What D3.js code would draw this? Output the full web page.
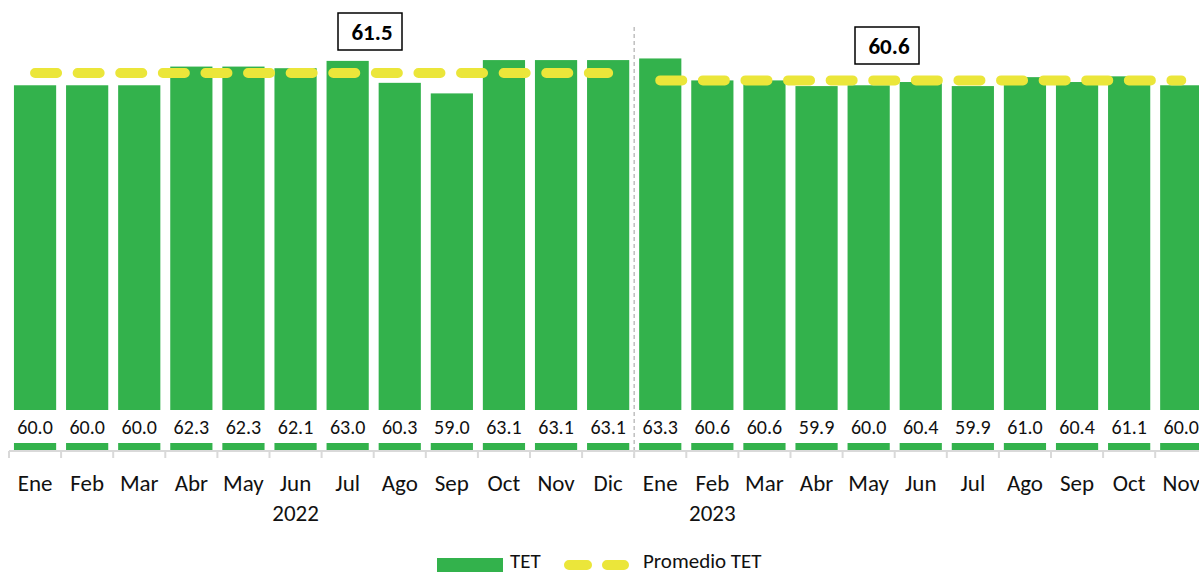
<!DOCTYPE html>
<html>
<head>
<meta charset="utf-8">
<script src="https://cdn.jsdelivr.net/npm/d3@7"></script>
<style>
  body { margin: 0; background: #fff; }
  svg { display: block; font-family: Carlito, Lato, "Liberation Sans", sans-serif; }
</style>
</head>
<body>
<div id="chart"></div>
<script>
// months shown on the axis (2022 then 2023)
var months = ["Ene","Feb","Mar","Abr","May","Jun","Jul","Ago","Sep","Oct","Nov","Dic",
              "Ene","Feb","Mar","Abr","May","Jun","Jul","Ago","Sep","Oct","Nov"];
var years = ["2022","2023"];
var yearOf = [0,0,0,0,0,0,0,0,0,0,0,0, 1,1,1,1,1,1,1,1,1,1,1];
// TET values
var tet = [60.0,60.0,60.0,62.3,62.3,62.1,63.0,60.3,59.0,63.1,63.1,63.1,
           63.3,60.6,60.6,59.9,60.0,60.4,59.9,61.0,60.4,61.1,60.0];
// yearly average
var promedio = [61.5, 60.6];

var width = 1199, height = 575;
var green = "#33b24c", yellow = "#ebe63a";

var svg = d3.select("#chart").append("svg")
  .attr("width", width)
  .attr("height", height);

var idx = d3.range(months.length);

var x = d3.scaleBand()
  .domain(idx)
  .range([9, 9 + 52.1 * months.length])
  .paddingInner(0.19)
  .paddingOuter(0.095);

var y = d3.scaleLinear().domain([15, 70]).range([451, 4]);

var step = x.step();
function boundary(i) { return x.range()[0] + i * step; }

// bars
svg.append("g").selectAll("rect")
  .data(idx)
  .enter().append("rect")
  .attr("x", function(i){ return x(i); })
  .attr("y", function(i){ return y(tet[i]); })
  .attr("width", x.bandwidth())
  .attr("height", function(i){ return y(15) - y(tet[i]) - 1; })
  .attr("fill", green);

// white boxes behind the value labels
svg.append("g").selectAll("rect")
  .data(idx)
  .enter().append("rect")
  .attr("x", function(i){ return x(i) - 3; })
  .attr("y", 410)
  .attr("width", x.bandwidth() + 6)
  .attr("height", 33)
  .attr("fill", "#fff");

svg.append("g").selectAll("text")
  .data(idx)
  .enter().append("text")
  .attr("x", function(i){ return x(i) + x.bandwidth() / 2; })
  .attr("y", 434)
  .attr("text-anchor", "middle")
  .attr("font-size", 20)
  .attr("fill", "#111")
  .text(function(i){ return tet[i].toFixed(1); });

// year divider
svg.append("line")
  .attr("x1", boundary(12)).attr("x2", boundary(12))
  .attr("y1", 27).attr("y2", 460)
  .attr("stroke", "#bfbfbf")
  .attr("stroke-width", 1.5)
  .attr("stroke-dasharray", "4,3");

// average lines, one per year
years.forEach(function(yr, k){
  var ids = idx.filter(function(i){ return yearOf[i] === k; });
  var x1 = x(ids[0]) + x.bandwidth() / 2;
  var x2 = x(ids[ids.length - 1]) + x.bandwidth() / 2;
  svg.append("line")
    .attr("x1", x1).attr("x2", x2)
    .attr("y1", y(promedio[k])).attr("y2", y(promedio[k]))
    .attr("stroke", yellow)
    .attr("stroke-width", 10)
    .attr("stroke-linecap", "round")
    .attr("stroke-dasharray", "22,20.6");
});

// average label boxes
var boxes = [{k: 0, cx: 370, top: 13}, {k: 1, cx: 887, top: 27}];
boxes.forEach(function(b){
  svg.append("rect")
    .attr("x", b.cx - 32).attr("y", b.top)
    .attr("width", 64).attr("height", 37)
    .attr("fill", "#fff")
    .attr("stroke", "#000")
    .attr("stroke-width", 1.5);
  svg.append("text")
    .attr("x", b.cx + 2).attr("y", b.top + 27)
    .attr("text-anchor", "middle")
    .attr("font-size", 23)
    .attr("font-weight", "bold")
    .text(promedio[b.k].toFixed(1));
});

// x axis
var ax = svg.append("g");
ax.append("line")
  .attr("x1", boundary(0)).attr("x2", width)
  .attr("y1", 451).attr("y2", 451)
  .attr("stroke", "#d9d9d9").attr("stroke-width", 2);
ax.selectAll(".tick")
  .data(d3.range(months.length + 1))
  .enter().append("line")
  .attr("x1", function(i){ return boundary(i); })
  .attr("x2", function(i){ return boundary(i); })
  .attr("y1", 451).attr("y2", 458)
  .attr("stroke", "#d9d9d9").attr("stroke-width", 2);

ax.selectAll(".month")
  .data(idx)
  .enter().append("text")
  .attr("x", function(i){ return x(i) + x.bandwidth() / 2; })
  .attr("y", 491)
  .attr("text-anchor", "middle")
  .attr("font-size", 23)
  .attr("fill", "#111")
  .text(function(i){ return months[i]; });

// year labels sit under Jun 2022 and Feb 2023
var yearPos = [5, 13];
years.forEach(function(yr, k){
  ax.append("text")
    .attr("x", x(yearPos[k]) + x.bandwidth() / 2)
    .attr("y", 521)
    .attr("text-anchor", "middle")
    .attr("font-size", 23)
    .attr("fill", "#111")
    .text(yr);
});

// legend
var lg = svg.append("g");
lg.append("rect").attr("x", 437).attr("y", 558).attr("width", 66).attr("height", 14).attr("fill", green);
lg.append("text").attr("x", 510).attr("y", 568).attr("font-size", 21).attr("fill", "#111").text("TET");
lg.append("line")
  .attr("x1", 569).attr("x2", 624)
  .attr("y1", 565).attr("y2", 565)
  .attr("stroke", yellow).attr("stroke-width", 10)
  .attr("stroke-linecap", "round")
  .attr("stroke-dasharray", "18,20");
lg.append("text").attr("x", 643).attr("y", 568).attr("font-size", 21).attr("fill", "#111").text("Promedio TET");
</script>
</body>
</html>
